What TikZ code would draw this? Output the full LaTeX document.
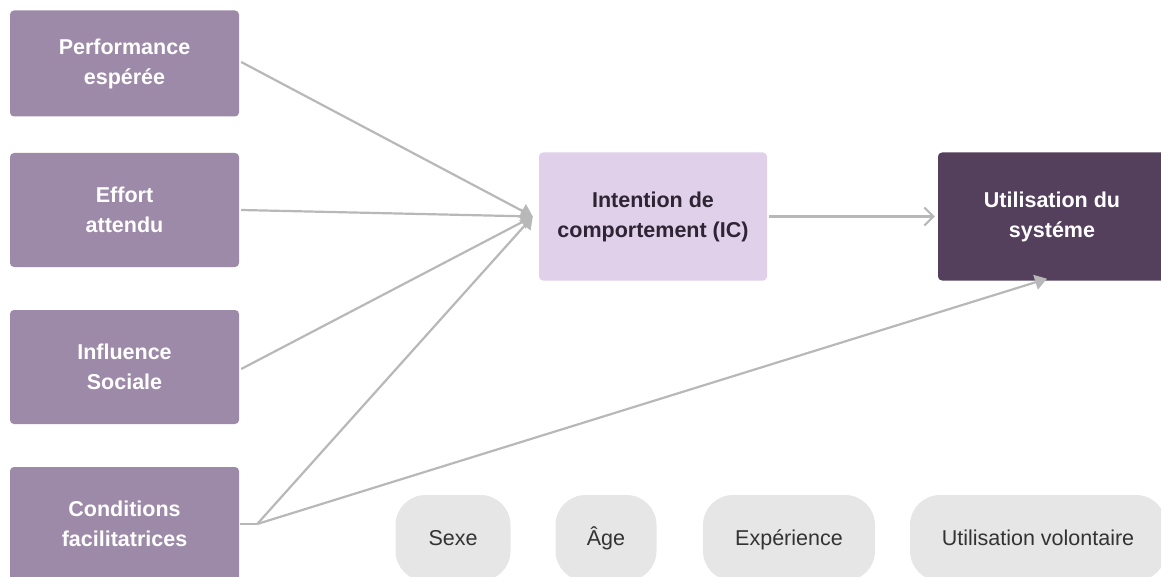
\documentclass[tikz,border=0pt]{standalone}
\usepackage{fontspec}
\setmainfont{Liberation Sans}
\usetikzlibrary{arrows.meta}
\definecolor{factorfill}{RGB}{157,137,168}
\definecolor{intentfill}{RGB}{224,208,234}
\definecolor{usefill}{RGB}{84,64,93}
\definecolor{pillfill}{RGB}{230,230,230}
\definecolor{linkgray}{RGB}{184,184,184}
\definecolor{darktext}{RGB}{46,36,51}
\definecolor{pilltext}{RGB}{51,51,51}
\tikzset{
  factor/.style={rectangle, rounded corners=4pt, fill=factorfill, text=white,
    minimum width=229pt, minimum height=114pt, inner sep=0pt, align=center,
    font=\fontsize{21.5}{30}\selectfont\bfseries},
  intent/.style={factor, fill=intentfill, text=darktext, minimum width=228pt, minimum height=128pt},
  usage/.style={factor, fill=usefill, text=white, minimum width=228pt, minimum height=128pt},
  pill/.style={rectangle, rounded corners=30pt, fill=pillfill, text=pilltext,
    minimum height=86pt, inner sep=0pt, text height=17pt, text depth=2pt,
    font=\fontsize{21.5}{26}\selectfont},
  link/.style={draw=linkgray, line width=2.2pt},
  solidhead/.style={link, -{Triangle[length=12pt,width=15pt]}},
  openhead/.style={link, -{Straight Barb[length=9pt,width=18pt,line width=2pt]}}
}
\begin{document}
\begin{tikzpicture}[x=1pt,y=-1pt]
  \useasboundingbox (0,0) rectangle (1161,577);
  \clip (0,0) rectangle (1161,577);

  % antecedent factors
  \node[factor, minimum height=106pt] (perf) at (124.5,63.5) {Performance\\esp\'er\'ee};
  \node[factor] (effort) at (124.5,210) {Effort\\attendu};
  \node[factor] (infl) at (124.5,367) {Influence\\Sociale};
  \node[factor] (cond) at (124.5,524) {Conditions\\facilitatrices};

  % intention and usage
  \node[intent] (ic) at (653,216.5) {Intention de\\comportement (IC)};
  \node[usage] (sys) at (1052,216.5) {Utilisation du\\syst\'eme};

  % moderators
  \node[pill, minimum width=115pt] (sexe) at (453,538) {Sexe};
  \node[pill, minimum width=101pt] (age) at (606,538) {\^Age};
  \node[pill, minimum width=172pt] (exp) at (789,538) {Exp\'erience};
  \node[pill, minimum width=256pt] (vol) at (1038,538) {Utilisation volontaire};

  % links towards the intention
  \coordinate (tipic) at ([xshift=-6pt]ic.west);
  \draw[solidhead] ([xshift=2pt,yshift=1.5pt]perf.east) -- (tipic);
  \draw[solidhead] ([xshift=2pt]effort.east) -- (tipic);
  \draw[solidhead] ([xshift=2pt,yshift=-2pt]infl.east) -- (tipic);
  \coordinate (junc) at ([xshift=18pt]cond.east);
  \draw[link] ([xshift=1pt]cond.east) -- (junc);
  \draw[solidhead] (junc) -- (tipic);

  % links towards the usage
  \draw[solidhead] (junc) -- ([xshift=-5pt,yshift=2pt]sys.south);
  \draw[openhead] ([xshift=2pt]ic.east) -- ([xshift=-3pt]sys.west);
\end{tikzpicture}
\end{document}
